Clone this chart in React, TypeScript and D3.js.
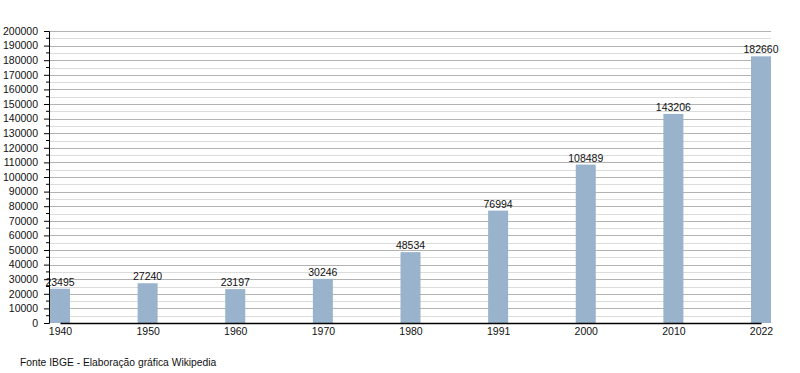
import React from "react";
import * as d3 from "d3";

const years = ["1940", "1950", "1960", "1970", "1980", "1991", "2000", "2010", "2022"];
const population = [23495, 27240, 23197, 30246, 48534, 76994, 108489, 143206, 182660];
const yMax = 200000;
const sourceText = "Fonte IBGE - Elaboração gráfica Wikipedia";

const W = 800;
const H = 373;
const margin = { top: 31, right: 29, bottom: 50, left: 49 };
const barW = 20;

const App: React.FC = () => {
  const svgRef = React.useRef<SVGSVGElement>(null);

  React.useEffect(() => {
    const svgEl = d3.select(svgRef.current);
    svgEl.selectAll("*").remove();

    const width = W - margin.left - margin.right;
    const height = H - margin.top - margin.bottom;

    svgEl.append("rect").attr("width", W).attr("height", H).attr("fill", "white");

    const g = svgEl
      .append("g")
      .attr("transform", `translate(${margin.left},${margin.top})`)
      .style("font-family", "'Liberation Sans', Arial, sans-serif");

    const yScale = d3.scaleLinear().domain([0, yMax]).range([height, 0]);
    const xScale = d3
      .scalePoint<string>()
      .domain(years)
      .range([barW / 2 + 1, width - barW / 2]);

    // minor grid (5000) then major grid (10000)
    const minor = d3.range(5000, yMax, 10000);
    const major = d3.range(10000, yMax + 1, 10000);
    g.selectAll(".minor")
      .data(minor)
      .join("line")
      .attr("x1", 0)
      .attr("x2", width)
      .attr("y1", (d) => Math.round(yScale(d)) + 0.5)
      .attr("y2", (d) => Math.round(yScale(d)) + 0.5)
      .attr("stroke", "#dcdcdc")
      .attr("stroke-width", 1);
    g.selectAll(".major")
      .data(major)
      .join("line")
      .attr("x1", 0)
      .attr("x2", width)
      .attr("y1", (d) => Math.round(yScale(d)) + 0.5)
      .attr("y2", (d) => Math.round(yScale(d)) + 0.5)
      .attr("stroke", "#b3b3b3")
      .attr("stroke-width", 1);

    // bars
    g.selectAll(".bar")
      .data(population)
      .join("rect")
      .attr("x", (d, i) => xScale(years[i])! - barW / 2)
      .attr("y", (d) => yScale(d))
      .attr("width", barW)
      .attr("height", (d) => height - yScale(d))
      .attr("fill", "#99b3cc");

    // value labels
    g.selectAll(".val")
      .data(population)
      .join("text")
      .attr("x", (d, i) => xScale(years[i])!)
      .attr("y", (d) => yScale(d) - 3)
      .attr("text-anchor", "middle")
      .attr("font-size", "10.5px")
      .attr("fill", "#111")
      .text((d) => String(d));

    // y axis
    const yAxis = d3
      .axisLeft(yScale)
      .tickValues(d3.range(0, yMax + 1, 10000))
      .tickSize(5)
      .tickPadding(6)
      .tickFormat((d) => String(d));
    const yAxisGroup = g.append("g").call(yAxis);
    yAxisGroup.select(".domain").attr("stroke", "#000");
    yAxisGroup.selectAll("text").attr("font-size", "10.5px").attr("fill", "#111");
    yAxisGroup.style("font-family", "'Liberation Sans', Arial, sans-serif");

    // minor ticks
    g.selectAll(".mtick")
      .data(minor)
      .join("line")
      .attr("x1", -3)
      .attr("x2", 0)
      .attr("y1", (d) => yScale(d))
      .attr("y2", (d) => yScale(d))
      .attr("stroke", "#000");

    // x axis
    const xAxis = d3.axisBottom(xScale).tickSize(0).tickPadding(5);
    const xAxisGroup = g.append("g").attr("transform", `translate(0,${height})`).call(xAxis);
    xAxisGroup.select(".domain").attr("stroke", "#000").attr("stroke-width", 1.5);
    xAxisGroup.selectAll("text").attr("font-size", "10.5px").attr("fill", "#111");
    xAxisGroup.style("font-family", "'Liberation Sans', Arial, sans-serif");

    // source
    svgEl
      .append("text")
      .attr("x", 20)
      .attr("y", 366)
      .attr("font-size", "10.3px")
      .attr("fill", "#111")
      .style("font-family", "'Liberation Sans', Arial, sans-serif")
      .text(sourceText);
  }, []);

  return (
    <div style={{ position: "absolute", left: 0, top: 0 }}>
      <svg ref={svgRef} width={W} height={H} style={{ display: "block" }} />
    </div>
  );
};

export default App;
